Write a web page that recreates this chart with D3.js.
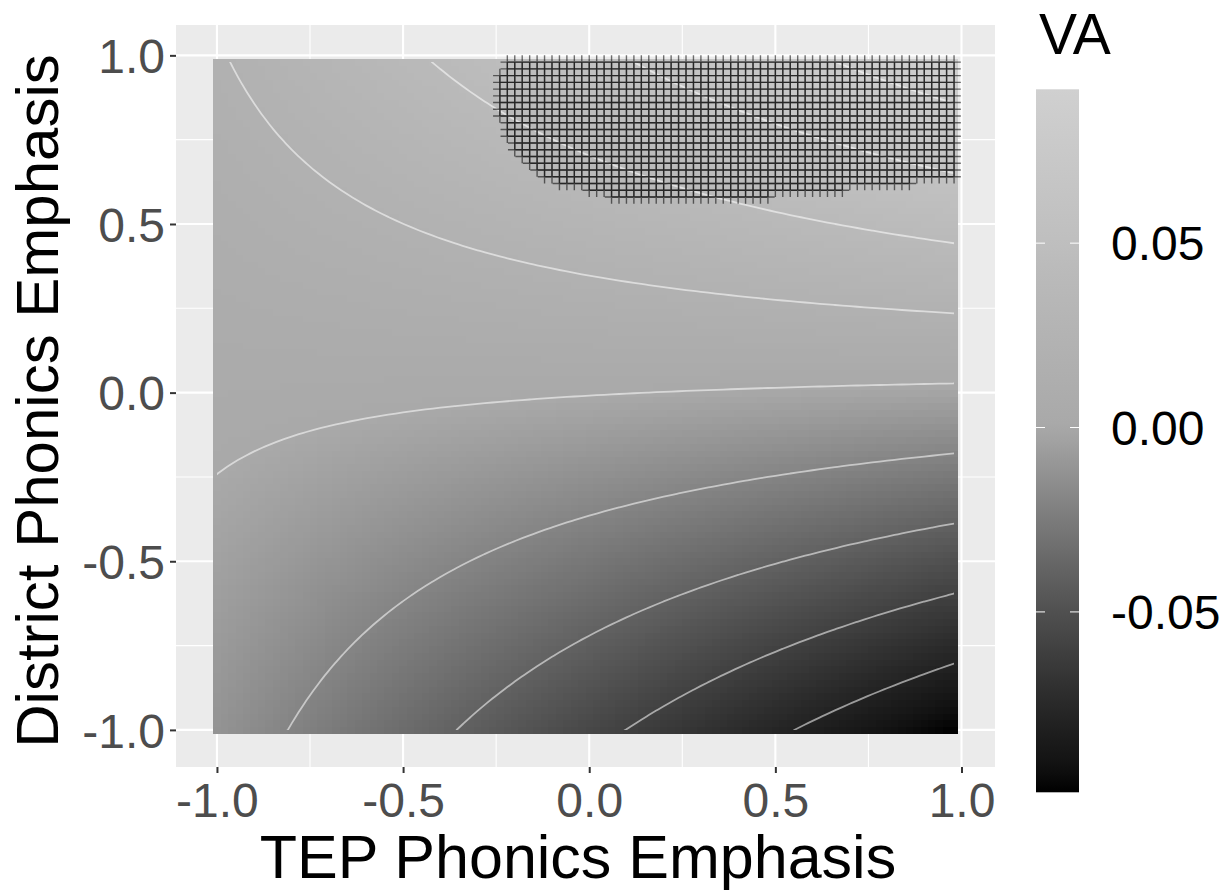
<!DOCTYPE html>
<html>
<head>
<meta charset="utf-8">
<script src="https://cdn.jsdelivr.net/npm/d3@7"></script>
<style>
  body { margin: 0; background: #fff; }
  text { font-family: "Liberation Sans", Arial, sans-serif; }
</style>
</head>
<body>
<div id="viz"><svg></svg></div>
<script>
const fullWidth = 1229;
const fullHeight = 890;

// fitted surface VA = b0 + b1*TEP + b2*District + b3*TEP*District
const coefNames = ['(Intercept)', 'TEP', 'District', 'TEP:District'];
const coefValues = [0.0005, -0.0032, 0.0562, 0.0409];

// prediction grid (100 x 100, step .02)
const gridStart = -1;
const gridStep = 0.02;
const gridCount = 100;

const contourLevels = [-0.08, -0.06, -0.04, -0.02, 0, 0.02, 0.04, 0.06, 0.08];

// significant region, one row of grid points per entry
const sigRowY = [0.98, 0.96, 0.94, 0.92, 0.90, 0.88, 0.86, 0.84, 0.82, 0.80, 0.78,
  0.76, 0.74, 0.72, 0.70, 0.68, 0.66, 0.64, 0.62, 0.60, 0.58];
const sigRowXMin = [-0.22, -0.22, -0.24, -0.24, -0.24, -0.24, -0.24, -0.24, -0.24, -0.22, -0.22,
  -0.22, -0.20, -0.20, -0.18, -0.16, -0.14, -0.12, -0.08, 0.00, 0.06];
const sigRowXMax = [0.98, 0.98, 0.98, 0.98, 0.98, 0.98, 0.98, 0.98, 0.98, 0.98, 0.98,
  0.98, 0.98, 0.98, 0.98, 0.98, 0.98, 0.98, 0.86, 0.68, 0.48];

const axisTicks = [-1, -0.5, 0, 0.5, 1];
const axisMinor = [-0.75, -0.25, 0.25, 0.75];
const legendTicks = [-0.05, 0, 0.05];
const legendLabels = ['-0.05', '0.00', '0.05'];

const xTitle = 'TEP Phonics Emphasis';
const yTitle = 'District Phonics Emphasis';
const legendTitle = 'VA';

const panel = { left: 176, right: 995, top: 25, bottom: 767 };

// build grid
const gx = d3.range(gridCount).map(i => +(gridStart + i * gridStep).toFixed(2));
const predict = (a, b) => coefValues[0] + coefValues[1] * a + coefValues[2] * b + coefValues[3] * a * b;

const cells = [];
const values = new Array(gridCount * gridCount);
for (let j = 0; j < gridCount; j++) {
  for (let i = 0; i < gridCount; i++) {
    const v = predict(gx[i], gx[j]);
    values[j * gridCount + i] = v;
    cells.push({ x: gx[i], y: gx[j], v: v });
  }
}

const half = gridStep / 2;
const tileMin = gx[0] - half, tileMax = gx[gridCount - 1] + half;
const pad = (tileMax - tileMin) * 0.05;

const x = d3.scaleLinear().domain([tileMin - pad, tileMax + pad]).range([panel.left, panel.right]);
const y = d3.scaleLinear().domain([tileMin - pad, tileMax + pad]).range([panel.bottom, panel.top]);

// diverging grey scale around 0 (symmetric, like gradient2)
const vExtent = d3.extent(values);
const vMax = d3.max(vExtent, Math.abs);
const color = d3.scaleLinear()
  .domain([-vMax, 0, vMax])
  .range(['#000000', '#a9a9a9', '#d3d3d3'])
  .interpolate(d3.interpolateLab);

const svg = d3.select('#viz svg')
  .attr('width', fullWidth)
  .attr('height', fullHeight);

// panel background + grid
svg.append('rect')
  .attr('x', panel.left).attr('y', panel.top)
  .attr('width', panel.right - panel.left).attr('height', panel.bottom - panel.top)
  .attr('fill', '#ebebeb');

const grid = svg.append('g');
grid.selectAll('.vmin').data(axisMinor).enter().append('line')
  .attr('x1', d => x(d)).attr('x2', d => x(d)).attr('y1', panel.top).attr('y2', panel.bottom)
  .attr('stroke', '#fff').attr('stroke-width', 1.1);
grid.selectAll('.hmin').data(axisMinor).enter().append('line')
  .attr('y1', d => y(d)).attr('y2', d => y(d)).attr('x1', panel.left).attr('x2', panel.right)
  .attr('stroke', '#fff').attr('stroke-width', 1.1);
grid.selectAll('.vmaj').data(axisTicks).enter().append('line')
  .attr('x1', d => x(d)).attr('x2', d => x(d)).attr('y1', panel.top).attr('y2', panel.bottom)
  .attr('stroke', '#fff').attr('stroke-width', 2.1);
grid.selectAll('.hmaj').data(axisTicks).enter().append('line')
  .attr('y1', d => y(d)).attr('y2', d => y(d)).attr('x1', panel.left).attr('x2', panel.right)
  .attr('stroke', '#fff').attr('stroke-width', 2.1);

// raster
const tw = x(gridStep) - x(0), th = y(0) - y(gridStep);
svg.append('g')
  .attr('shape-rendering', 'crispEdges')
  .selectAll('rect')
  .data(cells)
  .enter().append('rect')
  .attr('x', d => x(d.x - half))
  .attr('y', d => y(d.y + half))
  .attr('width', tw + 0.6)
  .attr('height', th + 0.6)
  .attr('fill', d => color(d.v));

// contours (clip away the outer ring d3.contours closes along the grid edge)
svg.append('clipPath').attr('id', 'gridclip')
  .append('rect')
  .attr('x', x(gx[0])).attr('y', y(gx[gridCount - 1]))
  .attr('width', x(gx[gridCount - 1]) - x(gx[0]))
  .attr('height', y(gx[0]) - y(gx[gridCount - 1]));

const contours = d3.contours().size([gridCount, gridCount]).thresholds(contourLevels)(values);
const toPx = p => [x(gridStart + gridStep * (p[0] - 0.5)), y(gridStart + gridStep * (p[1] - 0.5))];
const line = d3.line();

svg.append('g').attr('clip-path', 'url(#gridclip)')
  .selectAll('path')
  .data(contours)
  .enter().append('path')
  .attr('d', c => c.coordinates.map(poly => poly.map(ring => line(ring.map(toPx)) + 'Z').join('')).join(''))
  .attr('fill', 'none')
  .attr('stroke', '#fff')
  .attr('stroke-opacity', 0.55)
  .attr('stroke-width', 1.8);

// significance hatch, one "+" per grid point
const sigPoints = [];
sigRowY.forEach((ry, k) => {
  gx.filter(v => v >= sigRowXMin[k] - 1e-9 && v <= sigRowXMax[k] + 1e-9)
    .forEach(v => sigPoints.push({ x: v, y: ry }));
});
const arm = 6.8;
svg.append('g').selectAll('path')
  .data(sigPoints)
  .enter().append('path')
  .attr('d', d => {
    const px = x(d.x), py = y(d.y);
    return `M${px - arm},${py}H${px + arm}M${px},${py - arm}V${py + arm}`;
  })
  .attr('stroke', '#000')
  .attr('stroke-opacity', 0.55)
  .attr('stroke-width', 1.4)
  .attr('fill', 'none');

// axes
const fmt = v => v.toFixed(1);
const xAxis = svg.append('g')
  .attr('transform', `translate(0,${panel.bottom})`)
  .call(d3.axisBottom(x).tickValues(axisTicks).tickFormat(fmt).tickSize(6).tickPadding(10));
const yAxis = svg.append('g')
  .attr('transform', `translate(${panel.left},0)`)
  .call(d3.axisLeft(y).tickValues(axisTicks).tickFormat(fmt).tickSize(6).tickPadding(5));

[xAxis, yAxis].forEach(a => {
  a.select('.domain').remove();
  a.selectAll('.tick line').attr('stroke', '#333333').attr('stroke-width', 2);
  a.selectAll('.tick text')
    .attr('fill', '#4d4d4d')
    .style('font-size', '48px')
    .style('font-family', '"Liberation Sans", Arial, sans-serif');
});
yAxis.selectAll('.tick text').attr('dy', '0.36em');

svg.append('text')
  .attr('x', 578)
  .attr('y', 878)
  .attr('text-anchor', 'middle')
  .style('font-size', '61px')
  .attr('fill', '#000')
  .text(xTitle);

svg.append('text')
  .attr('transform', `translate(58,401) rotate(-90)`)
  .attr('text-anchor', 'middle')
  .style('font-size', '60px')
  .attr('fill', '#000')
  .text(yTitle);

// legend colourbar
const bar = { x: 1036, w: 43, top: 89.3, bottom: 792.3 };
const ly = d3.scaleLinear().domain(vExtent).range([bar.bottom, bar.top]);

const grad = svg.append('defs').append('linearGradient')
  .attr('id', 'vagrad').attr('x1', 0).attr('x2', 0).attr('y1', 1).attr('y2', 0);
d3.range(41).forEach(k => {
  const t = k / 40;
  grad.append('stop')
    .attr('offset', t)
    .attr('stop-color', color(vExtent[0] + t * (vExtent[1] - vExtent[0])));
});

svg.append('rect')
  .attr('x', bar.x).attr('y', bar.top)
  .attr('width', bar.w).attr('height', bar.bottom - bar.top)
  .attr('fill', 'url(#vagrad)');

const lg = svg.append('g');
lg.selectAll('.tl').data(legendTicks).enter().append('line')
  .attr('x1', bar.x).attr('x2', bar.x + 9)
  .attr('y1', d => ly(d)).attr('y2', d => ly(d))
  .attr('stroke', '#fff').attr('stroke-width', 1);
lg.selectAll('.tr').data(legendTicks).enter().append('line')
  .attr('x1', bar.x + bar.w - 9).attr('x2', bar.x + bar.w)
  .attr('y1', d => ly(d)).attr('y2', d => ly(d))
  .attr('stroke', '#fff').attr('stroke-width', 1);
lg.selectAll('text').data(legendTicks).enter().append('text')
  .attr('x', 1111)
  .attr('y', d => ly(d))
  .attr('dy', '0.36em')
  .style('font-size', '48px')
  .attr('fill', '#000')
  .text((d, i) => legendLabels[i]);

svg.append('text')
  .attr('x', 1039)
  .attr('y', 54)
  .style('font-size', '57px')
  .attr('fill', '#000')
  .text(legendTitle);
</script>
</body>
</html>
